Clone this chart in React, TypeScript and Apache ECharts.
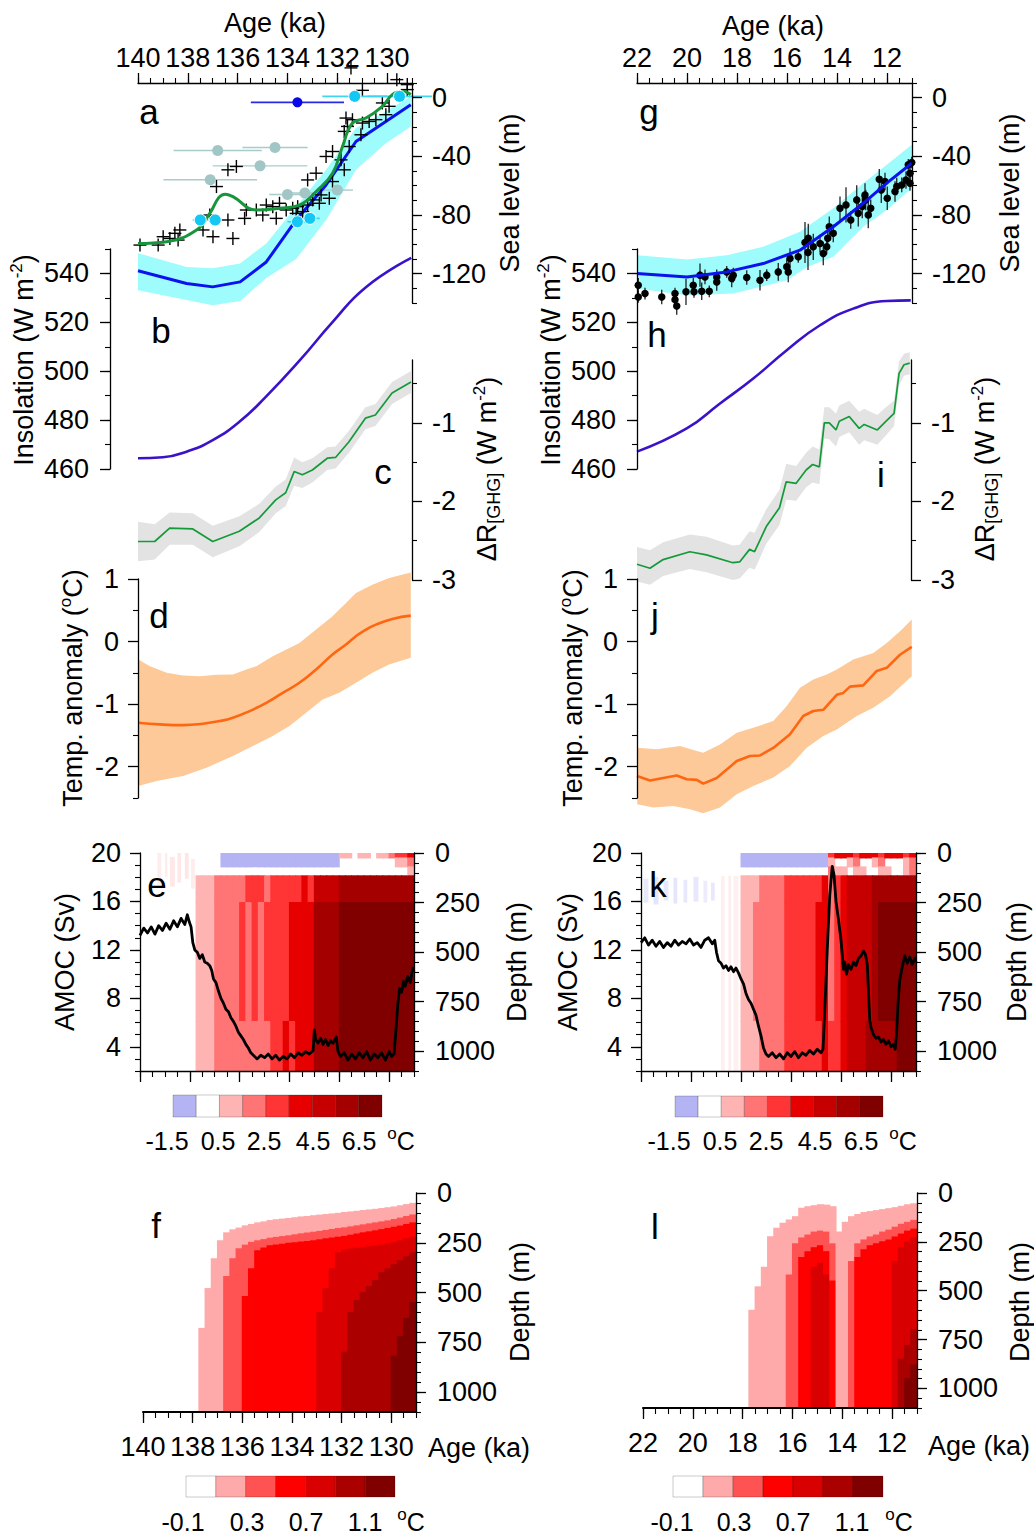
import React, { useEffect, useRef } from "react";
import * as echarts from "echarts";

const FONT = "'Liberation Sans', Arial, Helvetica, sans-serif";
const FS = 27;

// ---------------- Panel a : sea level, penultimate deglaciation ----------------
const aModelAge = [140, 138.05, 137.0, 135.9, 134.85, 133.65, 132.45, 131.25, 130.05, 129.05];
const aModelSea = [-118, -126.7, -129, -125.6, -112, -83.4, -59.5, -29.9, -16.2, -4.8];
const aModelHi = [-106, -115.4, -116.3, -113, -99.4, -74.3, -49.2, -20.7, -9.4, 0.9];
const aModelLo = [-131.3, -138, -141.5, -138.6, -123, -110, -83.4, -49.2, -31, -19.6];
const aGreenAge = [140, 138.85, 137.65, 137.12, 136.75, 136.5, 136.19, 135.25, 134.32, 133.52, 132.85, 132.19, 131.79, 131.39, 130.85, 130.19, 129.79, 129.39, 129.05];
const aGreenSea = [-99.4, -98.2, -90.2, -78.9, -68, -65.8, -67.5, -76.6, -75.4, -73.2, -64.0, -51.5, -33.3, -17.3, -13.9, -5.9, 2.1, 4.3, 2.1];
const aCross = [
  [131.45, 20.3], [130.99, 5.0], [129.61, 12.3], [129.19, 8.9], [129.19, 5.5], [131.65, -13.9], [131.39, -15.0],
  [131.59, -19.6], [130.99, -17.3], [130.72, -16.2], [130.45, -15.0], [130.19, -3.6], [129.92, -5.9], [130.05, -11.6],
  [131.72, -23.0], [131.05, -25.3], [131.52, -33.3], [132.19, -36.7], [132.45, -40.1], [131.85, -42.4], [131.72, -49.2],
  [132.85, -51.5], [133.19, -56.1], [132.19, -57.2], [132.65, -66.3], [132.32, -68.6], [132.99, -69.7], [132.72, -72.0],
  [133.19, -73.2], [133.59, -74.3], [133.79, -75.4], [134.05, -76.6], [134.32, -72.0], [134.59, -74.3], [134.85, -73.2],
  [134.99, -80.0], [134.45, -82.3], [135.25, -76.6], [135.65, -76.6], [135.72, -82.3], [136.39, -83.4], [137.12, -80.0],
  [137.39, -90.2], [136.99, -94.8], [136.19, -96.0], [136.05, -46.9], [136.39, -49.2], [136.85, -60.6], [138.32, -90.2],
  [138.39, -97.1], [138.72, -96.0], [138.99, -94.8], [139.19, -100.5], [139.92, -100.5], [138.52, -92.5], [133.65, -78.9],
  [133.39, -77.7],
];
const aGreyAge = [136.8, 134.5, 135.1, 137.1, 134.0, 133.3, 132.0];
const aGreySea = [-36, -34, -46.5, -56, -66, -65, -63];
const aGreyErr = [1.77, 1.31, 1.9, 1.88, 0.73, 0.73, 0.63];
const aCyanAge = [137.5, 136.9, 133.6, 133.1, 131.3, 129.5];
const aCyanSea = [-83.4, -83.4, -84.6, -82.3, 0.9, 0.9];
const aCyanErr = [0.3, 0.27, 0.4, 0.4, 1.3, 1.3];
const aBlueAge = [133.6];
const aBlueSea = [-3.2];
const aBlueErr = [1.87];

// ---------------- Panel b : insolation ----------------
const bAge = [140, 139, 138, 137, 135.93, 134.87, 133.5, 132.2, 130.85, 129.03];
const bIns = [464.4, 464.8, 467.3, 471.8, 479.3, 489.5, 504.5, 520.0, 534.4, 546.4];

// ---------------- Panel c : GHG forcing ----------------
const cAge = [140, 139.33, 138.73, 137.8, 137.0, 135.93, 135.13, 134.47, 134.07, 133.73, 133.4, 133.0, 132.4, 132.07, 131.53, 130.87, 130.47, 129.8, 129.04];
const cVal = [-2.51, -2.51, -2.34, -2.35, -2.51, -2.38, -2.21, -1.98, -1.89, -1.62, -1.66, -1.60, -1.45, -1.44, -1.24, -0.94, -0.90, -0.62, -0.48];
const cHi = [-2.26, -2.29, -2.14, -2.15, -2.31, -2.19, -2.03, -1.81, -1.72, -1.44, -1.50, -1.45, -1.31, -1.30, -1.10, -0.80, -0.76, -0.48, -0.34];
const cLo = [-2.76, -2.74, -2.55, -2.55, -2.71, -2.57, -2.39, -2.15, -2.06, -1.80, -1.83, -1.76, -1.60, -1.58, -1.38, -1.08, -1.04, -0.76, -0.62];

// ---------------- Panel d : temperature anomaly ----------------
const dAge = [139.99, 139.12, 138.19, 137.39, 136.72, 136.19, 135.52, 134.85, 134.19, 133.52, 132.85, 132.19, 131.65, 131.25, 130.85, 130.45, 129.79, 129.05];
const dVal = [-1.297, -1.324, -1.335, -1.313, -1.271, -1.217, -1.111, -0.978, -0.819, -0.659, -0.447, -0.207, -0.048, 0.085, 0.191, 0.271, 0.362, 0.415];
const dHiAge = [139.99, 139.52, 138.85, 138.19, 137.52, 136.85, 136.19, 135.65, 135.25, 134.59, 133.92, 133.52, 132.85, 132.19, 131.65, 131.25, 130.59, 129.92, 129.05];
const dHi = [-0.287, -0.394, -0.5, -0.542, -0.553, -0.531, -0.526, -0.447, -0.394, -0.234, -0.101, -0.021, 0.191, 0.404, 0.617, 0.776, 0.909, 1.015, 1.105];
const dLoAge = [139.99, 139.25, 138.19, 137.25, 136.19, 135.39, 134.59, 133.92, 133.25, 132.59, 131.92, 131.25, 130.59, 129.92, 129.05];
const dLo = [-2.308, -2.228, -2.148, -2.015, -1.829, -1.669, -1.51, -1.35, -1.138, -0.925, -0.819, -0.659, -0.5, -0.367, -0.26];

// ---------------- Panel e : AMOC + ocean temperature ----------------
const eAmoc = [
  [140.0, 13.2], [139.85, 13.8], [139.7, 13.4], [139.55, 13.9], [139.4, 13.3], [139.25, 14.0], [139.1, 13.6], [138.95, 14.2],
  [138.8, 13.7], [138.65, 14.4], [138.5, 13.9], [138.35, 14.6], [138.2, 14.1], [138.1, 14.9], [138.02, 14.3], [137.95, 13.9],
  [137.88, 12.6], [137.8, 12.0], [137.7, 11.8], [137.6, 11.3], [137.5, 11.6], [137.4, 11.0], [137.3, 10.9], [137.2, 10.7],
  [137.12, 10.3], [137.05, 9.6], [136.95, 9.3], [136.85, 8.6], [136.75, 8.0], [136.65, 7.6], [136.55, 7.1], [136.45, 6.9],
  [136.35, 6.4], [136.25, 6.1], [136.15, 5.7], [136.05, 5.2], [135.95, 4.9], [135.85, 4.6], [135.75, 4.2], [135.65, 3.9],
  [135.55, 3.5], [135.45, 3.3], [135.3, 3.0], [135.15, 3.3], [135.0, 3.1], [134.85, 3.4], [134.7, 3.0], [134.55, 3.3],
  [134.4, 2.9], [134.25, 3.2], [134.1, 3.0], [133.95, 3.4], [133.8, 3.1], [133.65, 3.5], [133.5, 3.3], [133.35, 3.6],
  [133.2, 3.4], [133.05, 3.7], [133.0, 5.4], [132.95, 4.6], [132.85, 4.3], [132.75, 4.7], [132.65, 4.2], [132.55, 4.6],
  [132.45, 4.1], [132.35, 4.5], [132.25, 4.3], [132.12, 4.8], [132.05, 3.6], [131.95, 3.2], [131.8, 3.5], [131.65, 2.9],
  [131.5, 3.4], [131.35, 3.0], [131.2, 3.5], [131.05, 3.1], [130.9, 3.6], [130.75, 2.9], [130.6, 3.4], [130.45, 3.1],
  [130.3, 3.5], [130.15, 2.9], [130.0, 3.6], [129.9, 3.2], [129.8, 3.4], [129.72, 5.5], [129.65, 7.5], [129.58, 8.8],
  [129.5, 8.5], [129.42, 9.4], [129.35, 9.0], [129.25, 9.8], [129.15, 9.3], [129.05, 10.5], [129.0, 10.2],
];
const eColAge = [140, 139.75, 139.5, 139.25, 139, 138.75, 138.5, 138.25, 138, 137.75, 137.5, 137.25, 137, 136.75, 136.5, 136.25, 136, 135.75, 135.5, 135.25, 135, 134.75, 134.5, 134.25, 134, 133.75, 133.5, 133.25, 133, 132.75, 132.5, 132.25, 132, 131.75, 131.5, 131.25, 131, 130.75, 130.5, 130.25, 130, 129.75, 129.5, 129.25];
const layerDepth = [0, 25, 70, 115, 250, 850, 1100];
// temperature anomaly class (°C) per column and depth layer
const eL0 = [0,0,0,0,0,0,0,0,0,0,0,0,0, -1,-1,-1,-1,-1,-1,-1,-1,-1,-1,-1,-1,-1,-1,-1,-1,-1,-1,-1, 1,1,0,1,1,0,1,1,2,3,3,4];
const eL1 = [0,0,0,0,0,0,0,0,0,0,0,0,0, -1,-1,-1,-1,-1,-1,-1,-1,-1,-1,-1,-1,-1,-1,-1,-1,-1,-1,-1, 0,0,0,0,0,0,0,0,0,1,1,2];
const eL2 = [0,0,0,0,0,0,0,0,0,0,0,0,0, 0,0,0,0,0,0,0,0,0,0,0,0,0,0,0,0,0,0,0, 0,0,0,0,0,0,0,0,0,0,0,1];
const eL3 = [0,0,0,0,0,0,0,0,0, 1,1,1, 2,2,2,2,2, 3,3,3,2,3,3,3,3,3,4,3, 5,5,5,5, 6,6,6,6,6,6,6,6,6,6,6,6];
const eL4 = [0,0,0,0,0,0,0,0,0, 1,1,1, 2,2,2,2, 3,2,3,2,3,3,3,3,4,4,4,4, 6,6,6,6, 7,7,7,7,7,7,7,7,7,7,7,7];
const eL5 = [0,0,0,0,0,0,0,0,0, 1,1,1, 2,2,2,2, 2,2,2,2,2, 3,3,4,3,4,4,4, 6,6,6,6, 7,7,7,7,7,7,7,7,7,7,7,7];
const eHaze = [
  [139.3, 139.15, 0, 160, 1, 0.25], [139.0, 138.9, 0, 120, 1, 0.25], [138.8, 138.6, 20, 170, 1, 0.3],
  [138.5, 138.35, 0, 150, 1, 0.3], [138.2, 138.05, 0, 130, 1, 0.35], [137.95, 137.8, 30, 180, 1, 0.25],
];

// ---------------- Panel f : ocean temperature ----------------
const N = null;
const fT1 = [N,N,N,N,N,N,N,N,N, 680,480,330,240,200,185,176,165,158,150,145,138,134,131,128,124,120,118,114,111,108,105,102,98,95,92,88,85,82,78,74,70,64,58,52];
const fT2 = [N,N,N,N,N,N,N,N,N,N,N,N,N, 420,330,280,262,248,240,234,227,223,219,215,210,205,201,197,193,188,183,178,175,170,165,160,155,150,145,140,133,126,118,110];
const fT3 = [N,N,N,N,N,N,N,N,N,N,N,N,N,N,N,N, 520,380,290,276,265,261,257,253,250,246,243,240,235,230,226,222,218,212,206,200,195,190,184,178,172,166,158,150];
const fT4 = [N,N,N,N,N,N,N,N,N,N,N,N,N,N,N,N,N,N,N,N,N,N,N,N,N,N,N,N, 600,480,380,300,286,282,278,275,270,266,262,256,250,240,230,222];
const fT5 = [N,N,N,N,N,N,N,N,N,N,N,N,N,N,N,N,N,N,N,N,N,N,N,N,N,N,N,N,N,N,N,N, 800,600,540,500,470,440,400,380,360,340,320,300];
const fT6 = [N,N,N,N,N,N,N,N,N,N,N,N,N,N,N,N,N,N,N,N,N,N,N,N,N,N,N,N,N,N,N,N,N,N,N,N,N,N,N,N, 820,720,630,550];

// ---------------- Panel g : sea level, last deglaciation ----------------
const gModelAge = [22, 20, 18.41, 16.95, 15.48, 14.15, 12.95, 12.01, 11.01];
const gModelSea = [-119.9, -122.2, -118.8, -113.1, -104, -88, -72, -58.3, -44.7];
const gHi = [-107.4, -110.3, -107.4, -101.7, -91.4, -75.4, -58.3, -45.8, -32.1];
const gLoAge = [22, 20, 18.15, 16.0, 15.2, 14.15, 12.95, 12.01, 11.01];
const gLo = [-130.1, -134.7, -133.6, -124.5, -115.4, -108.5, -88, -76.6, -61.8];
const gDots = [
  [21.95, -127.9, 5], [21.95, -135.9, 4], [21.68, -133.6, 4], [21.01, -135.9, 5], [20.48, -133.6, 4], [20.04, -132.4, 9],
  [19.75, -127.9, 5], [19.72, -132.4, 4], [19.48, -121.0, 8], [19.41, -132.0, 6], [19.28, -122.2, 5], [19.11, -132.0, 4],
  [18.81, -125.6, 6], [18.81, -122.2, 5], [18.41, -118.8, 4], [18.21, -123.3, 6], [18.15, -121.0, 5], [17.61, -122.6, 5],
  [17.08, -124.5, 7], [16.81, -121.0, 4], [16.35, -118.8, 6], [16.01, -115.3, 5], [15.95, -118.8, 7], [15.88, -109.6, 7],
  [15.55, -108.5, 4], [15.28, -98.7, 14], [15.16, -105.5, 12], [15.15, -95.9, 10], [14.95, -101.7, 9], [14.68, -99.4, 6],
  [14.55, -106.2, 8], [14.41, -101.7, 5], [14.37, -95.9, 6], [14.31, -88.0, 7], [14.15, -92.5, 6], [13.88, -75.4, 8],
  [13.64, -73.1, 12], [13.45, -83.4, 6], [13.21, -69.7, 10], [13.15, -78.8, 9], [12.99, -74.2, 8], [12.88, -66.3, 8],
  [12.85, -69.7, 7], [12.75, -80.0, 9], [12.65, -75.4, 6], [12.31, -55.6, 7], [12.23, -62.9, 9], [12.08, -57.2, 6],
  [11.99, -68.6, 8], [11.68, -64.0, 7], [11.61, -60.6, 6], [11.41, -59.5, 5], [11.24, -56.1, 6], [11.15, -45.8, 4],
  [11.08, -51.5, 5], [11.08, -58.4, 5], [11.01, -44.2, 4], [20.48, -137.7, 5], [20.41, -142.0, 6],
];

// ---------------- Panel h : insolation ----------------
const hAge = [22, 20.01, 18.68, 17.35, 16.01, 14.68, 13.35, 12.01, 11.05];
const hIns = [467.1, 476.6, 486.8, 497, 508.6, 518.8, 525.6, 528.7, 529];

// ---------------- Panel i : GHG forcing ----------------
const iAge = [22, 21.48, 20.95, 19.88, 19.21, 18.15, 17.88, 17.48, 17.28, 16.81, 16.28, 16.01, 15.61, 15.21, 14.95, 14.68, 14.48, 14.28, 14.01, 13.88, 13.48, 13.08, 12.88, 12.35, 12.01, 11.68, 11.48, 11.28, 11.05];
const iVal = [-2.80, -2.85, -2.74, -2.64, -2.68, -2.78, -2.77, -2.61, -2.64, -2.32, -2.08, -1.75, -1.77, -1.60, -1.53, -1.56, -1.00, -1.00, -1.09, -0.98, -0.92, -1.07, -1.02, -1.09, -0.98, -0.88, -0.37, -0.26, -0.24];
const iHi = [-2.58, -2.62, -2.52, -2.42, -2.45, -2.56, -2.55, -2.38, -2.40, -2.10, -1.85, -1.52, -1.55, -1.38, -1.30, -1.34, -0.80, -0.80, -0.88, -0.78, -0.72, -0.86, -0.82, -0.90, -0.80, -0.72, -0.22, -0.12, -0.10];
const iLo = [-3.02, -3.06, -2.95, -2.86, -2.90, -3.00, -2.98, -2.84, -2.87, -2.54, -2.30, -1.98, -1.99, -1.82, -1.76, -1.78, -1.20, -1.21, -1.30, -1.18, -1.12, -1.28, -1.22, -1.28, -1.16, -1.04, -0.52, -0.40, -0.38];

// ---------------- Panel j : temperature anomaly ----------------
const jAge = [22, 21.48, 20.95, 20.41, 20.01, 19.61, 19.35, 18.81, 18.01, 17.48, 17.08, 16.55, 15.88, 15.35, 14.95, 14.55, 14.01, 13.75, 13.48, 12.95, 12.41, 12.01, 11.48, 11.01];
const jVal = [-2.15, -2.22, -2.18, -2.14, -2.20, -2.21, -2.27, -2.18, -1.91, -1.83, -1.82, -1.70, -1.48, -1.19, -1.11, -1.09, -0.85, -0.82, -0.72, -0.70, -0.47, -0.42, -0.21, -0.085];
const jHiAge = [21.99, 21.21, 20.28, 19.61, 19.35, 18.68, 18.01, 17.35, 16.55, 16.01, 15.48, 14.95, 14.41, 14.01, 13.35, 12.55, 12.01, 11.48, 11.01];
const jHi = [-1.696, -1.722, -1.669, -1.749, -1.776, -1.643, -1.457, -1.377, -1.271, -1.031, -0.739, -0.606, -0.526, -0.447, -0.287, -0.181, -0.021, 0.165, 0.351];
const jLoAge = [21.99, 21.35, 20.55, 19.88, 19.35, 18.68, 18.01, 17.35, 16.55, 15.88, 15.21, 14.55, 14.01, 13.21, 12.55, 11.88, 11.01];
const jLo = [-2.6, -2.652, -2.627, -2.679, -2.743, -2.652, -2.44, -2.308, -2.174, -1.989, -1.696, -1.51, -1.404, -1.191, -1.058, -0.872, -0.553];

// ---------------- Panel k : AMOC + ocean temperature ----------------
const kAmoc = [
  [22.0, 12.6], [21.85, 13.0], [21.7, 12.4], [21.55, 12.8], [21.4, 12.3], [21.25, 12.7], [21.1, 12.2], [20.95, 12.6],
  [20.8, 12.3], [20.65, 12.8], [20.5, 12.4], [20.35, 12.7], [20.2, 12.5], [20.05, 12.9], [19.9, 12.4], [19.75, 12.6],
  [19.6, 12.2], [19.45, 12.8], [19.3, 13.0], [19.15, 12.5], [19.05, 12.8], [18.98, 11.8], [18.9, 11.1], [18.8, 10.9],
  [18.7, 10.5], [18.6, 10.7], [18.5, 10.3], [18.4, 10.6], [18.3, 10.2], [18.2, 10.5], [18.1, 10.1], [18.0, 9.6],
  [17.9, 9.2], [17.8, 8.4], [17.7, 7.9], [17.6, 7.6], [17.5, 7.1], [17.4, 6.6], [17.3, 5.7], [17.2, 4.9], [17.1, 3.9],
  [17.0, 3.4], [16.9, 3.2], [16.75, 3.5], [16.6, 3.1], [16.45, 3.4], [16.3, 3.0], [16.15, 3.5], [16.0, 3.2],
  [15.85, 3.6], [15.7, 3.1], [15.55, 3.5], [15.4, 3.3], [15.25, 3.7], [15.1, 3.4], [14.95, 3.8], [14.8, 3.5],
  [14.72, 3.8], [14.65, 7.0], [14.55, 12.0], [14.45, 16.5], [14.35, 18.9], [14.28, 18.2], [14.2, 16.0], [14.1, 14.5],
  [14.0, 12.8], [13.95, 11.6], [13.9, 10.4], [13.85, 11.0], [13.78, 10.0], [13.7, 10.8], [13.6, 10.4], [13.5, 11.0],
  [13.4, 10.7], [13.3, 11.3], [13.2, 11.5], [13.1, 11.9], [13.02, 11.6], [12.95, 10.8], [12.9, 8.5], [12.85, 6.2],
  [12.8, 5.6], [12.7, 5.0], [12.6, 4.7], [12.5, 4.8], [12.4, 4.4], [12.3, 4.6], [12.2, 4.2], [12.1, 4.5], [12.0, 4.0],
  [11.9, 4.2], [11.83, 3.8], [11.78, 5.0], [11.72, 7.5], [11.65, 9.5], [11.55, 10.6], [11.45, 11.5], [11.35, 10.9],
  [11.25, 11.4], [11.15, 10.8], [11.05, 11.3], [11.0, 11.0],
];
const kColAge = [22, 21.75, 21.5, 21.25, 21, 20.75, 20.5, 20.25, 20, 19.75, 19.5, 19.25, 19, 18.75, 18.5, 18.25, 18, 17.75, 17.5, 17.25, 17, 16.75, 16.5, 16.25, 16, 15.75, 15.5, 15.25, 15, 14.75, 14.5, 14.25, 14, 13.75, 13.5, 13.25, 13, 12.75, 12.5, 12.25, 12, 11.75, 11.5, 11.25];
const kL0 = [0,0,0,0,0,0,0,0,0,0,0,0,0,0,0,0, -1,-1,-1,-1,-1,-1,-1,-1,-1,-1,-1,-1,-1,-1, 3,4,4,4,3,4,4,4,3,4,4,4,3,4];
const kL1 = [0,0,0,0,0,0,0,0,0,0,0,0,0,0,0,0, -1,-1,-1,-1,-1,-1,-1,-1,-1,-1,-1,-1,-1,-1, 1,0,0,1,2,0,0,1,2,0,0,0,1,2];
const kL2 = [0,0,0,0,0,0,0,0,0,0,0,0,0,0,0,0, 0,0,0,0,0,0,0,0,0,0,0,0,0,0, 2,1,1,0,1,1,0,0,1,1,0,0,1,2];
const kL3 = [0,0,0,0,0,0,0,0,0,0,0,0,0,0,0,0, 1,1,1,2,2,2,2,3,3,3,3,3,3,4, 2,3,4,5,5,5,5,6,6,6,6,6,6,6];
const kL4 = [0,0,0,0,0,0,0,0,0,0,0,0,0,0,0,0, 1,1,2,2,2,2,2,3,3,3,3,3,4,4, 2,3,4,5,5,5,5,6,7,7,7,7,7,7];
const kL5 = [0,0,0,0,0,0,0,0,0,0,0,0,0,0,0,0, 1,1,1,2,2,2,2,3,3,3,3,3,3,4, 3,3,4,5,5,5,6,6,6,6,6,7,7,7];
const kHaze = [
  [21.9, 21.7, 130, 250, -1, 0.3], [21.5, 21.3, 120, 260, -1, 0.35], [21.1, 20.9, 140, 240, -1, 0.3],
  [20.7, 20.55, 125, 255, -1, 0.35], [20.3, 20.15, 135, 250, -1, 0.3], [19.9, 19.7, 120, 245, -1, 0.3],
  [19.5, 19.35, 140, 250, -1, 0.25], [19.2, 19.05, 150, 240, -1, 0.3], [18.8, 18.65, 115, 1100, 1, 0.2],
  [18.5, 18.4, 115, 1100, 1, 0.25], [18.3, 18.1, 115, 1100, 1, 0.2],
];

// ---------------- Panel l : ocean temperature ----------------
const lT1 = [N,N,N,N,N,N,N,N,N,N,N,N,N,N,N,N,N, 600,480,380,224,180,155,138,121,78,70,65,60,62,70,200,150,121,110,100,95,90,85,80,75,68,60,55];
const lT2 = [N,N,N,N,N,N,N,N,N,N,N,N,N,N,N,N,N,N,N,N,N,N,N, 420,260,230,215,200,195,200,260,N,N,350,260,240,225,215,200,190,175,160,150,140];
const lT3 = [N,N,N,N,N,N,N,N,N,N,N,N,N,N,N,N,N,N,N,N,N,N,N,N,N, 330,300,280,270,300,450,N,N,N,330,290,270,260,250,240,225,210,195,185];
const lT4 = [N,N,N,N,N,N,N,N,N,N,N,N,N,N,N,N,N,N,N,N,N,N,N,N,N,N,N, 380,360,420,N,N,N,N,N,N,N,N,N,N,350,280,250,230];
const lT5 = [N,N,N,N,N,N,N,N,N,N,N,N,N,N,N,N,N,N,N,N,N,N,N,N,N,N,N,N,N,N,N,N,N,N,N,N,N,N,N,N,N, 850,780,700];
const lT6 = [N,N,N,N,N,N,N,N,N,N,N,N,N,N,N,N,N,N,N,N,N,N,N,N,N,N,N,N,N,N,N,N,N,N,N,N,N,N,N,N,N,N, 950,880];

// ---------------- colour scales / ticks ----------------
const eColors = ["#b4b4f4", "#ffffff", "#ffb4b4", "#ff7474", "#ff3434", "#e60000", "#c60000", "#a40000", "#800000"];
const eBarLabels = ["-1.5", "0.5", "2.5", "4.5", "6.5"];
const fColors = ["#ffffff", "#ffaaaa", "#ff5252", "#ff0000", "#d80000", "#aa0000", "#800000"];
const fBarLabels = ["-0.1", "0.3", "0.7", "1.1"];
const COL_W = 0.25;

function range(a: number, b: number, s: number) {
  const r: number[] = [];
  for (let v = a; v <= b + 1e-9; v += s) r.push(Math.round(v * 1000) / 1000);
  return r;
}

const RICH = {
  sup: { fontSize: 17, fontFamily: FONT, fill: "#000", verticalAlign: "top", lineHeight: 14 },
  sub: { fontSize: 18, fontFamily: FONT, fill: "#000", verticalAlign: "bottom", lineHeight: 14 },
};

function buildOption() {
  const grid: any[] = [];
  const xAxis: any[] = [];
  const yAxis: any[] = [];
  const series: any[] = [];
  const graphic: any[] = [];

  const G = (l: number, t: number, r: number, b: number) => {
    grid.push({ left: l, top: t, width: r - l, height: b - t });
    return grid.length - 1;
  };
  const axis = (list: any[], o: any) => {
    const common = {
      type: "value", gridIndex: o.grid, position: o.pos, min: o.min, max: o.max, inverse: !!o.inverse,
      offset: o.offset || 0, splitLine: { show: false }, z: 10, silent: true,
    };
    list.push({
      ...common,
      axisLine: { show: o.line !== false, onZero: false, lineStyle: { color: "#000", width: o.lw || 1.3 } },
      axisTick: { show: true, customValues: o.major, length: o.majorLen ?? 10, lineStyle: { color: "#000", width: 1.3 } },
      axisLabel: o.labels
        ? {
            show: true, customValues: o.major, margin: o.margin ?? 20, fontSize: FS, fontFamily: FONT, color: "#000",
            formatter: (v: number) => String(v),
          }
        : { show: false },
    });
    const idx = list.length - 1;
    if (o.minor) {
      list.push({
        ...common,
        axisLine: { show: false, onZero: false },
        axisTick: { show: true, customValues: o.minor, length: o.minorLen ?? 5, lineStyle: { color: "#000", width: 1.1 } },
        axisLabel: { show: false },
      });
    }
    return idx;
  };
  const hidden = (list: any[], g: number, min: number, max: number, inverse = true) => {
    list.push({ type: "value", gridIndex: g, min, max, inverse, show: false });
    return list.length - 1;
  };

  const line = (xi: number, yi: number, ages: number[], vals: number[], color: string, width: number, smooth: any = false, z = 3) => ({
    type: "line", xAxisIndex: xi, yAxisIndex: yi, data: ages.map((a, i) => [a, vals[i]]), showSymbol: false, symbol: "none",
    smooth, lineStyle: { color, width }, clip: false, z, silent: true,
  });
  const pairLine = (xi: number, yi: number, pairs: number[][], color: string, width: number) => ({
    type: "line", xAxisIndex: xi, yAxisIndex: yi, data: pairs.map((p) => [p[0], p[1]]), showSymbol: false, symbol: "none",
    lineStyle: { color, width, join: "round" }, clip: true, z: 4, silent: true,
  });
  const band = (xi: number, yi: number, hiAge: number[], hi: number[], loAge: number[], lo: number[], color: string) => ({
    type: "custom", xAxisIndex: xi, yAxisIndex: yi, silent: true, z: 1, clip: false,
    data: [[hiAge[0], hi[0]]],
    renderItem: (_p: any, api: any) => {
      const pts: number[][] = [];
      hiAge.forEach((a, i) => pts.push(api.coord([a, hi[i]])));
      for (let i = loAge.length - 1; i >= 0; i--) pts.push(api.coord([loAge[i], lo[i]]));
      return { type: "polygon", shape: { points: pts }, style: { fill: color } };
    },
  });
  const errBars = (xi: number, yi: number, ages: number[], vals: number[], errs: number[], dir: string, color: string, width: number, z = 3) => ({
    type: "custom", xAxisIndex: xi, yAxisIndex: yi, silent: true, z, clip: false,
    data: ages.map((a, i) => [a, vals[i], errs[i]]),
    renderItem: (_p: any, api: any) => {
      const a = api.value(0), v = api.value(1), e = api.value(2);
      const p0 = dir === "x" ? api.coord([a - e, v]) : api.coord([a, v - e]);
      const p1 = dir === "x" ? api.coord([a + e, v]) : api.coord([a, v + e]);
      return { type: "line", shape: { x1: p0[0], y1: p0[1], x2: p1[0], y2: p1[1] }, style: { stroke: color, lineWidth: width } };
    },
  });
  const dots = (xi: number, yi: number, ages: number[], vals: number[], color: string, size: number, border = "none", z = 4) => ({
    type: "scatter", xAxisIndex: xi, yAxisIndex: yi, data: ages.map((a, i) => [a, vals[i]]), symbol: "circle", symbolSize: size,
    itemStyle: { color, borderColor: border, borderWidth: border === "none" ? 0 : 1, opacity: 1 }, clip: false, z, silent: true,
  });
  const crosses = (xi: number, yi: number, pts: number[][], size: number) => ({
    type: "custom", xAxisIndex: xi, yAxisIndex: yi, silent: true, z: 4, clip: false,
    data: pts.map((p) => [p[0], p[1]]),
    renderItem: (_p: any, api: any) => {
      const c = api.coord([api.value(0), api.value(1)]);
      const h = size / 2;
      return {
        type: "group",
        children: [
          { type: "line", shape: { x1: c[0] - h, y1: c[1], x2: c[0] + h, y2: c[1] }, style: { stroke: "#000", lineWidth: 1.4 } },
          { type: "line", shape: { x1: c[0], y1: c[1] - h, x2: c[0], y2: c[1] + h }, style: { stroke: "#000", lineWidth: 1.4 } },
        ],
      };
    },
  });
  const cells = (xi: number, yi: number, data: number[][], palette: string[], shift: number, z = 1) => ({
    type: "custom", xAxisIndex: xi, yAxisIndex: yi, silent: true, z, clip: true,
    data, encode: { x: [0, 1], y: [2, 3] },
    renderItem: (_p: any, api: any) => {
      const p0 = api.coord([api.value(0), api.value(2)]);
      const p1 = api.coord([api.value(1), api.value(3)]);
      const op = api.value(5);
      const pad = op < 1 ? 0 : 0.5;
      return {
        type: "rect",
        shape: {
          x: Math.min(p0[0], p1[0]) - pad, y: Math.min(p0[1], p1[1]) - pad,
          width: Math.abs(p1[0] - p0[0]) + 2 * pad, height: Math.abs(p1[1] - p0[1]) + 2 * pad,
        },
        style: { fill: palette[api.value(4) + shift], opacity: op },
      };
    },
  });
  const layerCells = (cols: number[], layers: number[][]) => {
    const out: number[][] = [];
    cols.forEach((a0, i) => layers.forEach((arr, k) => {
      if (arr[i] !== 0) out.push([a0, a0 - COL_W, layerDepth[k], layerDepth[k + 1], arr[i], 1]);
    }));
    return out;
  };
  const topCells = (cols: number[], tops: (number | null)[][]) => {
    const out: number[][] = [];
    cols.forEach((a0, i) => tops.forEach((arr, k) => {
      const d0 = arr[i];
      if (d0 == null) return;
      let d1 = 1100;
      for (let j = k + 1; j < tops.length; j++) {
        const v = tops[j][i];
        if (v != null && v > d0 && v < d1) d1 = v;
      }
      if (d1 > d0) out.push([a0, a0 - COL_W, d0, d1, k + 1, 1]);
    }));
    return out;
  };

  const text = (x: number, y: number, s: string, o: any = {}) => {
    graphic.push({
      type: "text", x, y, rotation: o.rot ? Math.PI / 2 : 0, silent: true, z: 100,
      style: {
        text: s, fontSize: o.fs || FS, fontFamily: FONT, fill: "#000", lineHeight: 32,
        align: "center", verticalAlign: "middle", textAlign: "center", textVerticalAlign: "middle", rich: RICH,
      },
    });
  };
  const colorbar = (x0: number, x1: number, y0: number, y1: number, colors: string[]) => {
    const w = (x1 - x0) / colors.length;
    colors.forEach((c, i) => graphic.push({
      type: "rect", silent: true, z: 100,
      shape: { x: x0 + i * w, y: y0, width: w, height: y1 - y0 },
      style: { fill: c, stroke: "rgba(0,0,0,0.35)", lineWidth: 0.6 },
    }));
  };

  const columns = [
    {
      left: true, ageMin: 129, ageMax: 140, majors: [130, 132, 134, 136, 138, 140],
      x0: 138, x1: 412, insOff: 28, eX0: 140, eX1: 414, fX0: 143, fX1: 416, fB: 1412,
    },
    {
      left: false, ageMin: 11, ageMax: 22, majors: [12, 14, 16, 18, 20, 22],
      x0: 637, x1: 912, insOff: 0, eX0: 641, eX1: 916, fX0: 643, fX1: 917, fB: 1408,
    },
  ];

  columns.forEach((c) => {
    const minorAge = range(c.ageMin, c.ageMax, 0.5);
    const ageAx = (g: number, pos: string, labels: boolean, margin = 14) =>
      axis(xAxis, { grid: g, pos, min: c.ageMin, max: c.ageMax, inverse: true, major: c.majors, minor: minorAge, labels, margin, majorLen: 10, minorLen: 5 });

    // a / g : sea level
    const gA = G(c.x0, 83, c.x1, 303);
    const xA = ageAx(gA, "top", true, 12);
    const yA = axis(yAxis, { grid: gA, pos: "right", min: -140, max: 10, major: [-120, -80, -40, 0], minor: range(-140, 10, 10), labels: true, margin: 20 });
    // b / h : insolation
    const gB = G(c.x0, 249, c.x1, 469);
    const xB = hidden(xAxis, gB, c.ageMin, c.ageMax);
    const yB = axis(yAxis, { grid: gB, pos: "left", offset: c.insOff, min: 460, max: 550, major: [460, 480, 500, 520, 540], minor: range(460, 550, 10), labels: true, margin: 21 });
    // c / i : GHG forcing
    const gC = G(c.x0, 360, c.left ? c.x1 : 911, 580);
    const xC = hidden(xAxis, gC, c.ageMin, c.ageMax);
    const yC = axis(yAxis, { grid: gC, pos: "right", min: -3, max: -0.2, major: [-3, -2, -1], minor: [-2.5, -1.5, -0.5], labels: true, margin: 20 });
    // d / j : temperature anomaly
    const gD = G(c.x0, 579, c.x1, 798);
    const xD = hidden(xAxis, gD, c.ageMin, c.ageMax);
    const yD = axis(yAxis, { grid: gD, pos: "left", min: -2.5, max: 1, major: [-2, -1, 0, 1], minor: [-2.5, -1.5, -0.5, 0.5], labels: true, margin: 19 });
    // e / k : AMOC + temperature
    const gE = G(c.eX0, 853, c.eX1, 1071);
    const xE = axis(xAxis, { grid: gE, pos: "bottom", min: c.ageMin, max: c.ageMax, inverse: true, major: c.majors, minor: minorAge, labels: false, majorLen: 11, minorLen: 6 });
    const yE = axis(yAxis, { grid: gE, pos: "left", min: 2, max: 20, major: [4, 8, 12, 16, 20], minor: range(2, 20, 1), labels: true, margin: 19 });
    const yE2 = axis(yAxis, { grid: gE, pos: "right", min: 0, max: 1100, inverse: true, major: [0, 250, 500, 750, 1000], minor: range(0, 1100, 50), labels: true, margin: 21 });
    // f / l : temperature
    const gF = G(c.fX0, 1193, c.fX1, c.fB);
    const xF = axis(xAxis, { grid: gF, pos: "bottom", min: c.ageMin, max: c.ageMax, inverse: true, major: c.majors, minor: minorAge, labels: true, margin: 21, majorLen: 11, minorLen: 6, lw: 2 });
    const yF = axis(yAxis, { grid: gF, pos: "right", min: 0, max: 1100, inverse: true, major: [0, 250, 500, 750, 1000], minor: range(0, 1100, 50), labels: true, margin: 21 });

    if (c.left) {
      series.push(band(xA, yA, aModelAge, aModelHi, aModelAge, aModelLo, "#9efcfc"));
      series.push(line(xA, yA, aModelAge, aModelSea, "#0c12ee", 3, false, 3));
      series.push(errBars(xA, yA, aGreyAge, aGreySea, aGreyErr, "x", "#a8cccc", 1.4));
      series.push(dots(xA, yA, aGreyAge, aGreySea, "#a2c6c6", 11));
      series.push(crosses(xA, yA, aCross, 13));
      series.push(line(xA, yA, aGreenAge, aGreenSea, "#17953c", 3, 0.45, 5));
      series.push(errBars(xA, yA, aBlueAge, aBlueSea, aBlueErr, "x", "#2a2ae6", 1.6, 5));
      series.push(dots(xA, yA, aBlueAge, aBlueSea, "#0808e8", 10, "none", 6));
      series.push(errBars(xA, yA, aCyanAge, aCyanSea, aCyanErr, "x", "#3cd6f2", 1.6, 5));
      series.push(dots(xA, yA, aCyanAge, aCyanSea, "#14c8f6", 12, "#ffffff", 6));
      series.push(line(xB, yB, bAge, bIns, "#3a12c9", 2.6, true));
      series.push(band(xC, yC, cAge, cHi, cAge, cLo, "#e3e3e3"));
      series.push(line(xC, yC, cAge, cVal, "#159a3a", 1.7));
      series.push(band(xD, yD, dHiAge, dHi, dLoAge, dLo, "#fdc998"));
      series.push(line(xD, yD, dAge, dVal, "#ff6611", 2.6, true));
      series.push(cells(xE, yE2, layerCells(eColAge, [eL0, eL1, eL2, eL3, eL4, eL5]), eColors, 1));
      series.push(cells(xE, yE2, eHaze, eColors, 1, 2));
      series.push(pairLine(xE, yE, eAmoc, "#000", 2.8));
      series.push(cells(xF, yF, topCells(eColAge, [fT1, fT2, fT3, fT4, fT5, fT6]), fColors, 0));
    } else {
      series.push(band(xA, yA, gModelAge, gHi, gLoAge, gLo, "#9efcfc"));
      series.push(errBars(xA, yA, gDots.map((d) => d[0]), gDots.map((d) => d[1]), gDots.map((d) => d[2]), "y", "#111", 1.2));
      series.push(dots(xA, yA, gDots.map((d) => d[0]), gDots.map((d) => d[1]), "#000", 7.5));
      series.push(line(xA, yA, gModelAge, gModelSea, "#0c12ee", 3, false, 5));
      series.push(line(xB, yB, hAge, hIns, "#3a12c9", 2.6, true));
      series.push(band(xC, yC, iAge, iHi, iAge, iLo, "#e3e3e3"));
      series.push(line(xC, yC, iAge, iVal, "#159a3a", 1.7));
      series.push(band(xD, yD, jHiAge, jHi, jLoAge, jLo, "#fdc998"));
      series.push(line(xD, yD, jAge, jVal, "#ff6611", 2.6));
      series.push(cells(xE, yE2, layerCells(kColAge, [kL0, kL1, kL2, kL3, kL4, kL5]), eColors, 1));
      series.push(cells(xE, yE2, kHaze, eColors, 1, 2));
      series.push(pairLine(xE, yE, kAmoc, "#000", 2.8));
      series.push(cells(xF, yF, topCells(kColAge, [lT1, lT2, lT3, lT4, lT5, lT6]), fColors, 0));
    }
  });

  // axis titles
  text(275, 23, "Age (ka)");
  text(773, 26, "Age (ka)");
  text(510, 193, "Sea level (m)", { rot: true });
  text(1010, 193, "Sea level (m)", { rot: true });
  text(24, 360, "Insolation (W m{sup|-2})", { rot: true });
  text(551, 360, "Insolation (W m{sup|-2})", { rot: true });
  text(487, 469, "ΔR{sub|[GHG]} (W m{sup|-2})", { rot: true });
  text(985, 469, "ΔR{sub|[GHG]} (W m{sup|-2})", { rot: true });
  text(73, 688, "Temp. anomaly ({sup|o}C)", { rot: true });
  text(573, 688, "Temp. anomaly ({sup|o}C)", { rot: true });
  text(65, 962, "AMOC (Sv)", { rot: true });
  text(568, 962, "AMOC (Sv)", { rot: true });
  text(517, 962, "Depth (m)", { rot: true });
  text(1017, 962, "Depth (m)", { rot: true });
  text(520, 1302, "Depth (m)", { rot: true });
  text(1020, 1302, "Depth (m)", { rot: true });
  text(479, 1448, "Age (ka)");
  text(979, 1446, "Age (ka)");

  // panel letters
  const letters: [string, number, number][] = [
    ["a", 149, 111], ["b", 161, 330], ["c", 383, 471], ["d", 159, 615], ["e", 157, 884], ["f", 156, 1225],
    ["g", 649, 111], ["h", 657, 334], ["i", 881, 474], ["j", 655, 615], ["k", 658, 884], ["l", 655, 1226],
  ];
  letters.forEach(([s, x, y]) => text(x, y, s, { fs: 35 }));

  // colour bars
  colorbar(173, 382, 1095, 1117, eColors);
  colorbar(675, 883, 1096, 1117, eColors);
  colorbar(186, 395, 1476, 1497, fColors);
  colorbar(673, 883, 1476, 1497, fColors);
  const eLx = [167, 218, 264, 313, 359];
  const kLx = [669, 720, 766, 815, 861];
  eBarLabels.forEach((s, i) => { text(eLx[i], 1141, s, { fs: 25 }); text(kLx[i], 1141, s, { fs: 25 }); });
  text(401, 1141, "{sup|o}C", { fs: 25 });
  text(903, 1141, "{sup|o}C", { fs: 25 });
  const fLx = [183, 247, 306, 365];
  const lLx = [672, 734, 793, 852];
  fBarLabels.forEach((s, i) => { text(fLx[i], 1522, s, { fs: 25 }); text(lLx[i], 1522, s, { fs: 25 }); });
  text(411, 1522, "{sup|o}C", { fs: 25 });
  text(899, 1522, "{sup|o}C", { fs: 25 });

  return { animation: false, backgroundColor: "#fff", grid, xAxis, yAxis, series, graphic };
}

export default function App() {
  const ref = useRef<HTMLDivElement>(null);
  useEffect(() => {
    const chart = echarts.init(ref.current as HTMLDivElement, null, { renderer: "svg" });
    chart.setOption(buildOption() as any);
    return () => chart.dispose();
  }, []);
  return (
    <div
      ref={ref}
      style={{ position: "absolute", left: 0, top: 0, width: 1034, height: 1538, background: "#fff" }}
    />
  );
}
